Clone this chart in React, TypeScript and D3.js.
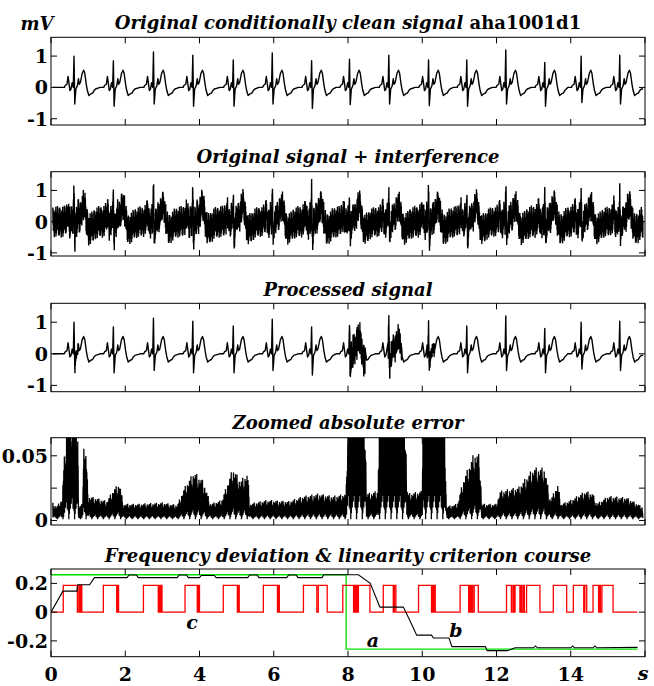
import React from 'react';
import * as d3 from 'd3';

// ---------- DATA ----------
// R-peak times (s) and amplitudes (mV) of the clean ECG
const beatTimes = [0.62, 1.68, 2.76, 3.82, 4.91, 5.96, 7.02, 8.04, 9.10, 10.17, 11.20, 12.25, 13.30, 14.28, 15.32];
const rAmp = [1.0, 0.85, 1.13, 1.03, 0.88, 1.1, 0.85, 0.9, 1.03, 0.88, 0.88, 1.2, 0.8, 1.0, 1.03];
const sAmp = [-0.53, -0.6, -0.53, -0.6, -0.6, -0.53, -0.67, -0.55, -0.53, -0.58, -0.6, -0.53, -0.6, -0.48, -0.53];
// beat morphology: offset from R (s) and value (mV); 'R' / 'S' take per-beat amplitudes
const shapeDt = [-0.36, -0.26, -0.24, -0.19, -0.16, -0.13, -0.11, -0.08, -0.05, -0.02, 0, 0.02, 0.05, 0.09, 0.12, 0.14, 0.17, 0.22, 0.26, 0.29, 0.33, 0.36, 0.40, 0.46, 0.50, 0.54, 0.58];
const shapeV: (number | string)[] = [0, 0, 0.06, 0.1, 0.35, 0.08, -0.1, -0.05, 0.15, 0.0, 'R', 'S', -0.05, 0.05, 0.28, 0.1, 0.15, 0.45, 0.55, 0.45, 0.1, -0.1, -0.26, -0.2, -0.18, -0.1, -0.05];

// interference amplitude (mV) per second, t = 0..16
const interfAmp = [0.5, 0.52, 0.5, 0.48, 0.52, 0.5, 0.48, 0.52, 0.5, 0.48, 0.52, 0.5, 0.48, 0.52, 0.5, 0.48, 0.52];
// fixed dither pattern read as the texture of the noise band
const jitter = [0.9, -0.7, 0.35, -1, 0.6, -0.2, 0.95, -0.85, 0.1, -0.5, 0.8, -0.95, 0.45, -0.3, 1, -0.6, 0.25, -0.9, 0.7, -0.4, 0.55, -0.75, 0.15, -0.65, 0.85, -0.1, 0.4, -0.8, 0.65, -0.35, 0.2, -0.55, 0.75, -0.25, 0.5, -0.45, 0.3];
// residual bursts in the processed signal: [start, end, amplitude]
const bursts = [[0.64, 0.74, 0.15], [8.05, 8.46, 0.5], [9.08, 9.45, 0.4], [10.13, 10.34, 0.2]];

// zoomed absolute error envelope: time (s), value
const errT = [0, 0.15, 0.3, 0.35, 0.45, 0.72, 0.74, 0.85, 0.88, 0.95, 1.0, 1.3, 1.5, 1.7, 1.85, 1.95, 2.4, 3.0, 3.4, 3.6, 3.85, 4.1, 4.3, 4.6, 4.9, 5.1, 5.3, 5.35, 5.8, 6.4, 6.8, 7.2, 7.6, 7.95, 8.0, 8.45, 8.5, 8.8, 8.86, 9.53, 9.6, 10.0, 10.02, 10.6, 10.65, 10.95, 11.1, 11.4, 11.55, 11.6, 12.0, 12.1, 12.6, 13.0, 13.3, 13.45, 13.65, 13.75, 14.0, 14.4, 14.6, 14.7, 15.0, 15.5, 15.8];
const errV = [0.014, 0.01, 0.016, 0.045, 0.08, 0.08, 0.01, 0.012, 0.06, 0.05, 0.018, 0.016, 0.014, 0.024, 0.028, 0.012, 0.012, 0.013, 0.011, 0.025, 0.037, 0.03, 0.012, 0.015, 0.04, 0.03, 0.036, 0.012, 0.015, 0.014, 0.018, 0.02, 0.018, 0.02, 0.09, 0.09, 0.02, 0.022, 0.09, 0.09, 0.02, 0.022, 0.09, 0.09, 0.01, 0.012, 0.03, 0.052, 0.05, 0.012, 0.012, 0.022, 0.025, 0.04, 0.04, 0.015, 0.027, 0.012, 0.015, 0.022, 0.02, 0.012, 0.018, 0.017, 0.012];
const errPattern = [1, 0.2, 0.85, 0.05, 0.6, 0.3, 0.95, 0.1, 0.75, 0.4, 0.9, 0.15, 0.5, 0.0, 0.8, 0.35, 0.7, 0.25, 0.55, 0.1, 0.65, 0.45, 0.92, 0.08, 0.38, 0.7, 0.18, 0.82, 0.28, 0.6, 0.12];

// frequency deviation (a, green) and linearity criterion course (b, black)
const greenT = [0, 7.95, 7.95, 15.8];
const greenV = [0.26, 0.26, -0.258, -0.258];
const blackT = [0, 0.32, 0.7, 0.72, 1.04, 1.17, 2.05, 2.1, 2.3, 2.35, 3.4, 3.45, 3.65, 3.7, 4.0, 4.05, 4.4, 4.45, 5.3, 5.35, 5.55, 5.6, 6.35, 6.4, 6.6, 6.65, 7.3, 7.35, 8.28, 8.6, 8.86, 9.49, 9.65, 9.85, 10.25, 10.3, 10.72, 10.8, 11.7, 11.75, 12.3, 12.5, 13.0, 13.05, 13.1, 14.0, 14.05, 14.1, 14.6, 14.65, 14.7, 15.8];
const blackV = [0, 0.146, 0.146, 0.19, 0.19, 0.24, 0.24, 0.258, 0.258, 0.24, 0.24, 0.258, 0.258, 0.24, 0.24, 0.255, 0.255, 0.24, 0.24, 0.258, 0.258, 0.24, 0.24, 0.258, 0.258, 0.24, 0.24, 0.26, 0.26, 0.2, 0.035, 0.035, -0.05, -0.16, -0.16, -0.18, -0.18, -0.24, -0.24, -0.268, -0.268, -0.248, -0.248, -0.235, -0.248, -0.248, -0.235, -0.248, -0.248, -0.235, -0.248, -0.245];
// red on/off criterion (c): intervals where it is high
const redStart = [0.33, 0.75, 0.80, 1.41, 1.79, 2.49, 2.92, 2.96, 3.61, 3.97, 4.64, 5.04, 5.72, 6.12, 6.8, 7.2, 7.86, 8.18, 8.23, 8.28, 8.95, 9.25, 9.9, 10.28, 10.33, 11.02, 11.28, 11.33, 11.4, 12.27, 12.44, 12.5, 12.66, 12.72, 12.81, 13.53, 14.07, 14.38, 14.6, 14.78, 14.84];
const redEnd = [0.71, 0.77, 0.83, 1.77, 1.82, 2.89, 2.94, 2.99, 3.94, 4.0, 5.02, 5.07, 6.1, 6.15, 7.16, 7.44, 8.15, 8.2, 8.25, 8.59, 9.22, 9.29, 10.25, 10.3, 10.35, 11.25, 11.3, 11.36, 11.51, 12.4, 12.47, 12.63, 12.68, 12.75, 13.17, 13.89, 14.35, 14.43, 14.75, 14.8, 15.14];
const redHigh = 0.186;

const xTicks = [0, 2, 4, 6, 8, 10, 12, 14, 16];
const xTickLabels = ['0', '2', '4', '6', '8', '10', '12', '14', ''];
const titles = [
  'Original conditionally clean signal',
  'Original signal + interference',
  'Processed signal',
  'Zoomed absolute error',
  'Frequency deviation & linearity criterion course',
];
const recordName = 'aha1001d1';

// ---------- LAYOUT ----------
const W = 654, H = 686;
const X0 = 51, X1 = 645;
const FONT = '"DejaVu Serif", serif';

type Pt = [number, number];

function buildClean(): Pt[] {
  const pts: Pt[] = [[0.05, 0]];
  beatTimes.forEach((tr, i) => {
    shapeDt.forEach((dt, k) => {
      const sv = shapeV[k];
      const v = sv === 'R' ? rAmp[i] : sv === 'S' ? sAmp[i] : (sv as number);
      const t = tr + dt;
      if (t > pts[pts.length - 1][0]) pts.push([t, v]);
    });
  });
  pts.push([15.95, -0.05]);
  return pts;
}

export default function App() {
  const x = d3.scaleLinear().domain([0, 16]).range([X0, X1]);
  const clean = buildClean();
  const bis = d3.bisector((d: Pt) => d[0]).left;
  const cleanAt = (t: number) => {
    const i = bis(clean, t);
    if (i <= 0) return clean[0][1];
    if (i >= clean.length) return clean[clean.length - 1][1];
    const a = clean[i - 1], b = clean[i];
    return a[1] + ((t - a[0]) / (b[0] - a[0])) * (b[1] - a[1]);
  };
  const ampAt = d3.scaleLinear().domain(d3.range(interfAmp.length)).range(interfAmp);
  const errAt = d3.scaleLinear().domain(errT).range(errV);

  const step = 0.005;
  const ts = d3.range(0.05, 15.95, step);
  const noisy: Pt[] = ts.map((t, i) => [t, cleanAt(t) + ampAt(t) * jitter[(i * 5) % jitter.length]]);
  const extra: Pt[] = [];
  bursts.forEach(([a, b, amp]) => {
    d3.range(a, b, step).forEach((t, i) => extra.push([t, cleanAt(t) + amp * jitter[(i * 3) % jitter.length]]));
  });
  const processed: Pt[] = clean
    .filter(p => !bursts.some(([a, b]) => p[0] >= a && p[0] < b))
    .concat(extra)
    .sort((p, q) => p[0] - q[0]);
  const errSig: Pt[] = ts.map((t, i) => [t, 0.001 + errAt(t) * errPattern[(i * 7) % errPattern.length]]);
  const green: Pt[] = greenT.map((t, i) => [t, greenV[i]]);
  const black: Pt[] = blackT.map((t, i) => [t, blackV[i]]);
  const red: Pt[] = [[0, 0]];
  redStart.forEach((a, i) => {
    red.push([a, 0], [a, redHigh], [redEnd[i], redHigh], [redEnd[i], 0]);
  });
  red.push([15.8, 0]);

  const panels = [
    { top: 37.3, bottom: 125, domain: [-1.2, 1.6], yt: [-1, 0, 1], yl: ['-1', '0', '1'], titleY: 29 },
    { top: 171.7, bottom: 256, domain: [-1.1, 1.6], yt: [-1, 0, 1], yl: ['-1', '0', '1'], titleY: 162.5 },
    { top: 303.3, bottom: 391.7, domain: [-1.2, 1.6], yt: [-1, 0, 1], yl: ['-1', '0', '1'], titleY: 296 },
    { top: 437.7, bottom: 525, domain: [-0.0035, 0.064], yt: [0, 0.025, 0.05], yl: ['0', '', '0.05'], titleY: 429 },
    { top: 569, bottom: 656.7, domain: [-0.31, 0.3], yt: [-0.2, 0, 0.2], yl: ['-0.2', '0', '0.2'], titleY: 561.5 },
  ];
  const ys = panels.map(p => d3.scaleLinear().domain(p.domain).range([p.bottom, p.top]));
  const mk = (pi: number) => d3.line<Pt>().x(d => x(d[0])).y(d => ys[pi](d[1]));
  const TL = 6;
  const cx = (X0 + X1) / 2;
  const tickFs = 19;
  const titleFs = 18;

  return (
    <svg width={W} height={H} style={{ position: 'absolute', left: 0, top: 0, background: '#fff' }}>
      <defs>
        {panels.map((p, i) => (
          <clipPath id={`clip${i}`} key={i}>
            <rect x={X0} y={p.top} width={X1 - X0} height={p.bottom - p.top} />
          </clipPath>
        ))}
      </defs>
      <rect x={0} y={0} width={W} height={H} fill="#fff" />

      <g clipPath="url(#clip0)">
        <path d={mk(0)(clean) || ''} fill="none" stroke="#000" strokeWidth={1.4} strokeLinejoin="round" />
      </g>
      <g clipPath="url(#clip1)">
        <path d={mk(1)(noisy) || ''} fill="none" stroke="#000" strokeWidth={1.4} />
      </g>
      <g clipPath="url(#clip2)">
        <path d={mk(2)(processed) || ''} fill="none" stroke="#000" strokeWidth={1.4} strokeLinejoin="round" />
      </g>
      <g clipPath="url(#clip3)">
        <path d={mk(3)(errSig) || ''} fill="none" stroke="#000" strokeWidth={1.3} />
      </g>
      <g clipPath="url(#clip4)">
        <path d={mk(4)(green) || ''} fill="none" stroke="#00e000" strokeWidth={1.3} />
        <path d={mk(4)(red) || ''} fill="none" stroke="#ff0000" strokeWidth={1.3} />
        <path d={mk(4)(black) || ''} fill="none" stroke="#000" strokeWidth={1.1} />
      </g>

      {panels.map((p, i) => (
        <g key={i}>
          <rect x={X0} y={p.top} width={X1 - X0} height={p.bottom - p.top} fill="none" stroke="#000" strokeWidth={1} />
          {xTicks.map(t => (
            <g key={t}>
              <line x1={x(t)} x2={x(t)} y1={p.top} y2={p.top + TL} stroke="#000" />
              <line x1={x(t)} x2={x(t)} y1={p.bottom} y2={p.bottom - TL} stroke="#000" />
            </g>
          ))}
          {p.yt.map((v, k) => (
            <g key={k}>
              <line x1={X0} x2={X0 + TL} y1={ys[i](v)} y2={ys[i](v)} stroke="#000" />
              <line x1={X1} x2={X1 - TL} y1={ys[i](v)} y2={ys[i](v)} stroke="#000" />
              <text x={48} y={ys[i](v) + 7} textAnchor="end" fontFamily={FONT} fontWeight="bold" fontSize={tickFs}>{p.yl[k]}</text>
            </g>
          ))}
          <text x={cx} y={p.titleY} textAnchor="middle" fontFamily={FONT} fontWeight="bold" fontSize={titleFs}>
            <tspan fontStyle="italic">{titles[i]}</tspan>
            {i === 0 ? <tspan>{' ' + recordName}</tspan> : null}
          </text>
        </g>
      ))}

      {xTicks.map((t, k) => (
        <text key={t} x={x(t)} y={681} textAnchor="middle" fontFamily={FONT} fontWeight="bold" fontSize={tickFs}>{xTickLabels[k]}</text>
      ))}
      <text x={643} y={680} textAnchor="middle" fontFamily={FONT} fontWeight="bold" fontStyle="italic" fontSize={titleFs + 1}>s</text>
      <text x={37} y={30} textAnchor="middle" fontFamily={FONT} fontWeight="bold" fontStyle="italic" fontSize={titleFs}>mV</text>
      <text x={373} y={647} textAnchor="middle" fontFamily={FONT} fontWeight="bold" fontStyle="italic" fontSize={titleFs + 1}>a</text>
      <text x={456} y={637} textAnchor="middle" fontFamily={FONT} fontWeight="bold" fontStyle="italic" fontSize={titleFs + 1}>b</text>
      <text x={192} y={629} textAnchor="middle" fontFamily={FONT} fontWeight="bold" fontStyle="italic" fontSize={titleFs + 1}>c</text>
    </svg>
  );
}
